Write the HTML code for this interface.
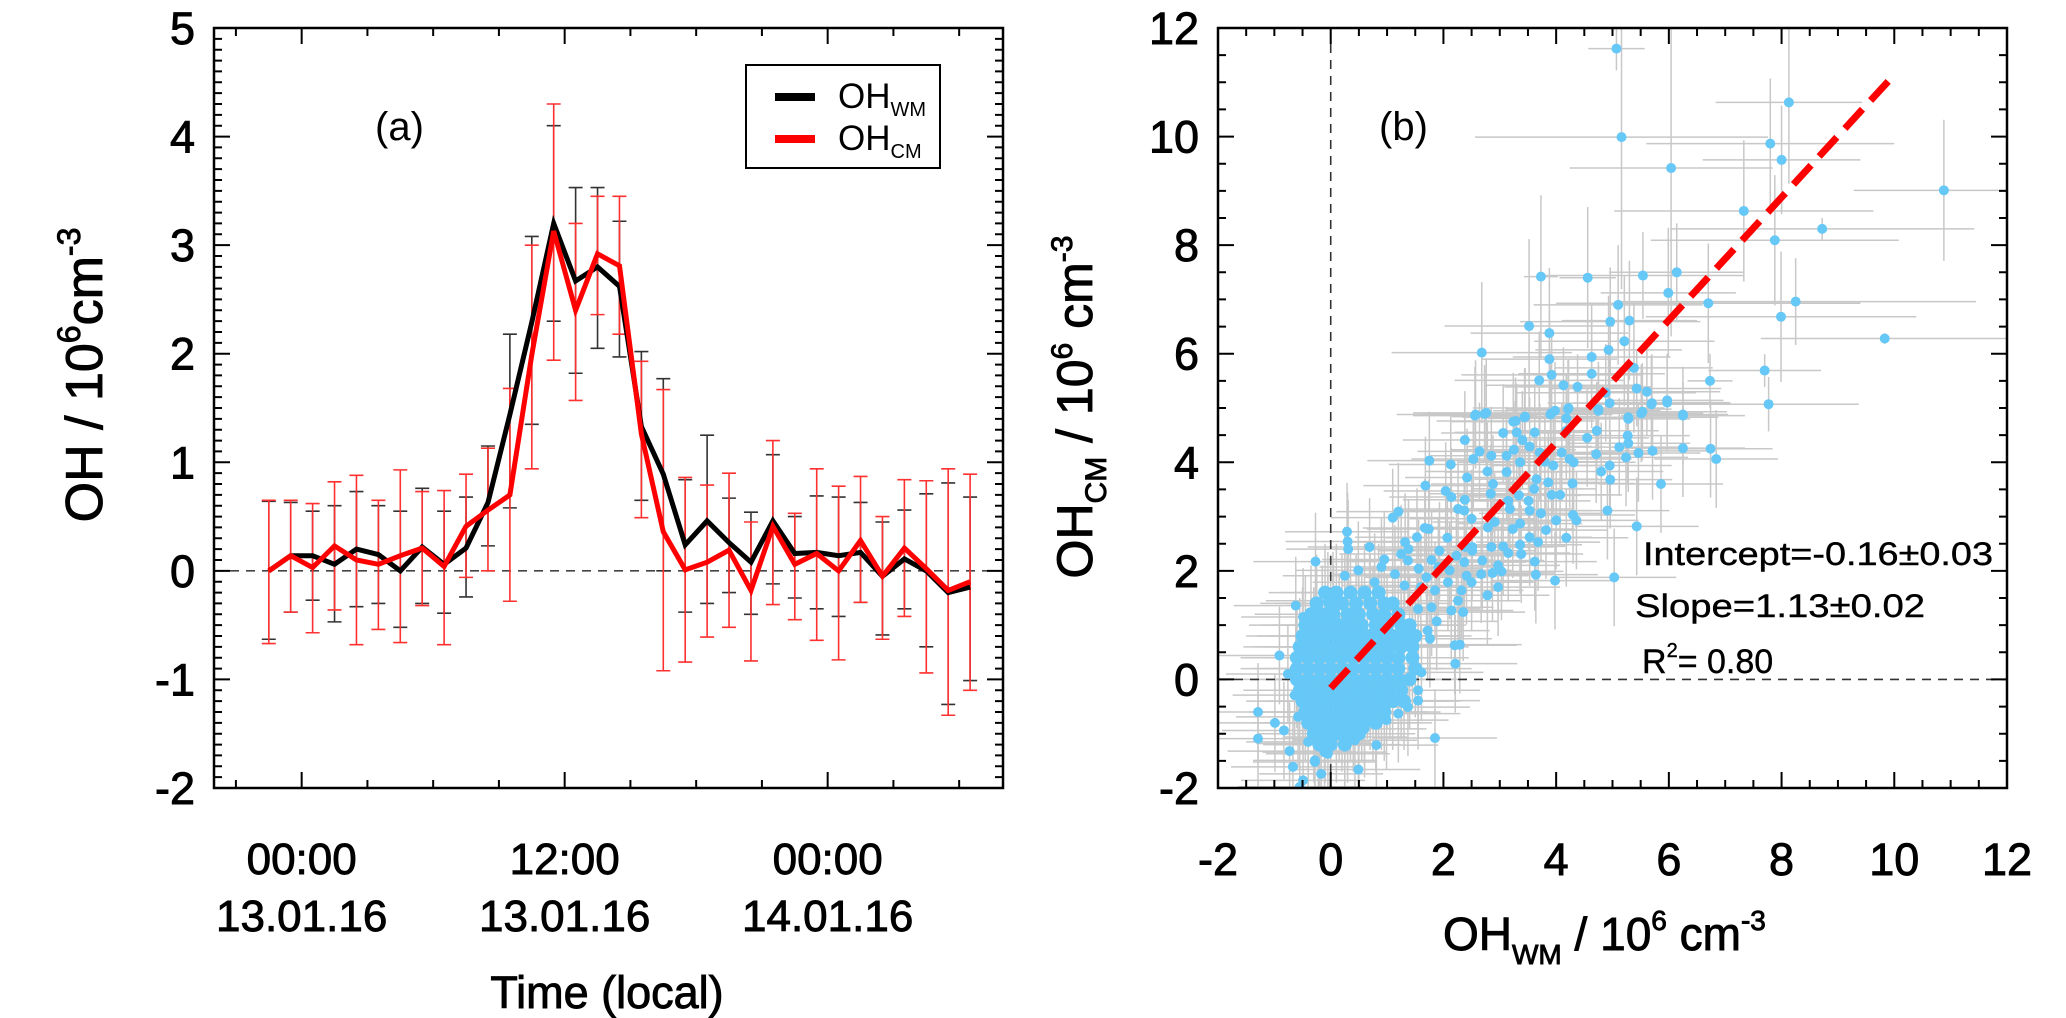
<!DOCTYPE html>
<html><head><meta charset="utf-8"><title>OH comparison</title>
<style>
html,body{margin:0;padding:0;background:#fff;}
svg{display:block;font-family:"Liberation Sans",Arial,sans-serif;}
.tl{stroke:#000;stroke-width:0.9;}
.ts{stroke:#000;stroke-width:0.4;}
</style></head>
<body>
<svg id="fig" xmlns="http://www.w3.org/2000/svg" width="2066" height="1018" viewBox="0 0 2066 1018">
<rect x="0" y="0" width="2066" height="1018" fill="#fff"/>
<g id="pa"></g>
<g id="pb"></g>
</svg>
<script>
// ---------- Panel (a) data ----------
const hours = [-1.5,-0.5,0.5,1.5,2.5,3.5,4.5,5.5,6.5,7.5,8.5,9.5,10.5,11.5,12.5,13.5,14.5,15.5,16.5,17.5,18.5,19.5,20.5,21.5,22.5,23.5,24.5,25.5,26.5,27.5,28.5,29.5,30.5];
const ohWM = [0,0.14,0.14,0.06,0.2,0.15,0,0.22,0.06,0.21,0.63,1.44,2.29,3.2,2.67,2.8,2.62,1.33,0.89,0.24,0.46,0.26,0.08,0.46,0.16,0.17,0.14,0.17,-0.05,0.11,0,-0.2,-0.15];
const ohCM = [0,0.14,0.03,0.23,0.1,0.06,0.14,0.21,0.04,0.41,0.56,0.7,1.99,3.13,2.4,2.92,2.81,1.26,0.36,0.01,0.08,0.19,-0.18,0.41,0.06,0.16,0,0.28,-0.05,0.21,0.02,-0.18,-0.1];
const wmHi = [0.64,0.63,0.55,0.6,0.73,0.6,0.55,0.76,0.55,0.68,1.15,2.18,3.08,4.1,3.53,3.53,3.22,2.02,1.77,0.84,1.25,0.67,0.54,1.07,0.5,0.69,0.68,0.63,0.45,0.56,0.71,0.81,0.68];
const wmLo = [-0.63,-0.38,-0.27,-0.47,-0.33,-0.3,-0.52,-0.3,-0.39,-0.24,0.23,0.58,1.35,2.3,1.82,2.05,1.97,0.65,0.0,-0.38,-0.3,-0.2,-0.4,-0.12,-0.25,-0.35,-0.42,-0.29,-0.59,-0.35,-0.7,-1.23,-1.01];
const cmHi = [0.65,0.65,0.62,0.82,0.88,0.65,0.93,0.73,0.74,0.89,1.13,1.68,3.0,4.3,3.2,3.45,3.45,1.93,1.67,0.86,0.79,0.9,0.45,1.2,0.53,0.94,0.78,0.87,0.5,0.84,0.83,0.94,0.89];
const cmLo = [-0.67,-0.38,-0.57,-0.36,-0.68,-0.54,-0.66,-0.32,-0.68,-0.06,0.0,-0.28,0.94,1.94,1.57,2.36,2.18,0.49,-0.92,-0.84,-0.61,-0.52,-0.83,-0.31,-0.45,-0.64,-0.82,-0.29,-0.63,-0.42,-0.94,-1.33,-1.1];
const aYTicks = [-2,-1,0,1,2,3,4,5];
const aXTickHours = [0,12,24];
const aXTickTime = ["00:00","12:00","00:00"];
const aXTickDate = ["13.01.16","13.01.16","14.01.16"];

// ---------- Panel (b) data ----------
const olX = [5.07,8.13,5.16,7.8,8.0,6.04,10.88,7.33,8.72,7.88,3.73,4.56,5.54,6.14,5.99,5.1,6.7,8.25,4.96,5.3,7.99,3.52,3.88,5.21,9.83,2.68,4.93,3.88,4.63,5.38,7.7,3.92,4.63,3.7,6.73,4.13,4.38,5.43,5.61,4.88,5.97,5.7,7.77,4.22,4.75,5.53,6.25,2.57,2.76,3.45,3.91,4.18,5.28,3.28];
const olY = [11.62,10.63,9.99,9.87,9.57,9.42,9.01,8.63,8.3,8.09,7.42,7.4,7.44,7.5,7.12,6.9,6.93,6.96,6.59,6.61,6.68,6.51,6.38,6.23,6.28,6.02,6.07,5.9,5.94,5.74,5.69,5.61,5.63,5.51,5.5,5.42,5.39,5.36,5.3,5.28,5.14,5.09,5.07,5.0,4.98,4.93,4.88,4.88,4.91,4.84,4.9,4.81,4.83,4.76];
const olXe = [0.5,1.3,2.6,2.2,1.4,1.8,1.6,2.3,2.7,2.2,0.3,0.5,1.8,1.2,1.2,1.5,2.7,3.2,1.6,1.2,2.4,1.5,1.4,1.6,2.2,1.6,1.3,1.2,1.4,1.4,1.0,1.6,1.3,1.5,0.4,1.4,1.3,1.5,1.3,1.6,1.0,1.4,1.6,1.7,1.3,1.5,0.8,1.4,1.3,1.3,1.5,1.4,1.6,1.4];
const olYe = [0.4,1.5,2.8,1.2,1.0,3.1,1.3,1.3,0.2,1.2,1.5,1.3,0.8,0.9,1.2,1.1,1.1,0.8,1.0,1.1,1.2,1.6,1.2,1.2,0.1,1.3,1.0,0.9,1.0,1.2,0.3,0.8,1.0,0.9,0.5,0.7,0.6,0.7,0.8,0.9,0.8,0.9,0.5,0.9,0.8,0.9,0.6,1.0,1.0,0.9,1.0,0.8,0.9,0.8];
const bandX = [4.95,5.69,5.97,4.21,4.75,3.98,3.9,3.44,3.24,2.73,2.56,6.25,5.51,5.28,4.18,4.72,3.06,3.3,3.62,5.27,4.55,2.38,3.4,5.28,3.53,5.12,6.25,6.74,6.84,5.46,5.71,4.71,2.64,3.25,3.71,2.85,3.12,4.1,4.24,5.24,1.75,2.13,2.53,3.36,3.8,3.95,4.31,4.8,4.95,2.78,2.42,3.12,3.65,4.29,4.96,5.86,3.86,2.88,1.68,3.61,2.04,2.84,3.34,3.92,2.14,2.38,3.15,3.51,4.07,
 4.91,1.2,2.26,2.37,3.18,3.53,3.73,4.3,4.36,4.0,1.1,2.5,2.91,3.82,5.43,4.18,0.29,1.67,1.74,2.79,3.23,3.36,3.68,3.53,0.3,0.31,0.69,1.32,1.53,2.07,2.38,2.51,2.85,3.06,3.36,1.25,1.38,1.93,2.23,2.51,3.15,3.38,0.95,1.37,1.79,2.37,2.69,2.97,3.62,-0.27,0.9,1.56,1.91,2.11,2.41,2.67,2.87,3.03,3.64,3.98,5.03,0.49,1.14,0.25,0.78,1.7,2.08,2.5,2.97,1.31,1.6,1.85,2.32,2.78,2.26,1.79,2.14,2.35,1.55,-0.05,0.04,
 -1.29,-1.29,-0.99,-0.83,-0.73,-0.67,-0.49,-0.55,-0.28,-0.11,0.49,0.81,1.85,-0.91,-0.76,-0.62,-0.49,1.55,1.55,1.61,1.76,1.72,2.21,2.2,2.29,1.88,-0.64,-0.58,0.99,1.2,1.37,0.25,0.43,0.6,-0.22,-0.05,-0.4,-0.17,-0.28];
const bandY = [5.09,5.07,5.1,4.98,4.95,4.95,4.88,4.83,4.75,4.89,4.86,4.86,4.9,4.8,4.58,4.58,4.54,4.55,4.55,4.49,4.45,4.41,4.41,4.35,4.29,4.28,4.26,4.25,4.06,4.17,4.21,4.15,4.2,4.23,4.18,4.12,4.12,4.18,4.06,4.09,4.03,3.96,4.06,4.0,4.01,3.94,4.0,3.83,3.94,3.83,3.72,3.82,3.69,3.61,3.68,3.6,3.63,3.6,3.57,3.51,3.47,3.42,3.39,3.4,3.36,3.31,3.29,3.29,3.4,
 3.11,3.09,3.14,3.11,3.14,3.11,3.06,3.03,2.93,2.93,2.98,2.96,2.9,2.75,2.82,2.61,2.72,2.79,2.77,2.8,2.77,2.87,2.53,2.62,2.54,2.4,2.44,2.53,2.62,2.61,2.44,2.44,2.44,2.45,2.48,2.31,2.4,2.37,2.28,2.37,2.33,2.31,2.21,2.19,2.2,2.16,2.19,2.1,2.17,2.17,2.07,2.04,2.07,2.01,1.91,1.94,1.96,1.99,1.93,1.82,1.88,2.01,1.94,1.91,1.79,1.88,1.79,1.79,1.7,1.73,1.7,1.64,1.64,1.55,1.45,1.33,1.27,1.24,1.3,1.45,1.45,
 -0.6,-1.09,-0.8,-0.94,-1.32,-1.61,-1.86,-1.98,-1.52,-1.34,-1.66,-1.21,-1.08,0.44,0.1,1.36,1.15,-0.39,-0.2,0.13,0.75,0.9,0.29,0.63,0.64,1.07,-0.29,-0.69,-0.75,-0.63,-0.51,-1.06,-1.12,-0.91,-1.18,-1.37,-1.15,-1.74,-1.49];
const bandErr = [1.1, 0.9];
const coreRowY = [1.6,1.4,1.2,1.0,0.8,0.6,0.4,0.2,0.0,-0.2,-0.4,-0.6,-0.8,-1.0,-1.2];
const coreRowX = [
 [-0.1,0.1,0.35,0.6,0.85],
 [-0.25,0.0,0.2,0.45,0.7,0.95,1.1],
 [-0.35,-0.15,0.05,0.3,0.5,0.75,0.95,1.2],
 [-0.45,-0.25,-0.05,0.15,0.35,0.55,0.8,1.0,1.25,1.4],
 [-0.5,-0.3,-0.1,0.1,0.3,0.5,0.7,0.9,1.1,1.3,1.5],
 [-0.55,-0.35,-0.15,0.05,0.25,0.45,0.65,0.85,1.05,1.25,1.45],
 [-0.6,-0.4,-0.2,0.0,0.2,0.4,0.6,0.8,1.0,1.2,1.45],
 [-0.6,-0.4,-0.2,0.0,0.2,0.4,0.6,0.8,1.0,1.2,1.5],
 [-0.6,-0.4,-0.2,0.0,0.2,0.4,0.6,0.8,1.0,1.2,1.4],
 [-0.55,-0.35,-0.15,0.05,0.25,0.45,0.65,0.85,1.05,1.25],
 [-0.5,-0.3,-0.1,0.1,0.3,0.5,0.7,0.9,1.1,1.3],
 [-0.45,-0.25,-0.05,0.15,0.35,0.55,0.75,0.95],
 [-0.4,-0.2,0.0,0.2,0.4,0.6,0.8],
 [-0.3,-0.1,0.1,0.3,0.5],
 [-0.2,0.0,0.25]];
const coreErr = [1.0, 0.9];
const fitIntercept = -0.16;
const fitSlope = 1.13;
const fitRange = [0, 10];
const bTicks = [-2,0,2,4,6,8,10,12];

// ---------- helpers ----------
const NS = "http://www.w3.org/2000/svg";
function mk(parent, tag, attrs, text) {
  const e = document.createElementNS(NS, tag);
  for (const k in attrs) e.setAttribute(k, attrs[k]);
  if (text !== undefined) e.textContent = text;
  parent.appendChild(e);
  return e;
}
const A = {x0:214, x1:1003, y0:28, y1:788, hmin:-4, hmax:32, vmin:-2, vmax:5};
const xA = h => A.x0 + (h - A.hmin) * (A.x1 - A.x0) / (A.hmax - A.hmin);
const yA = v => A.y1 - (v - A.vmin) * (A.y1 - A.y0) / (A.vmax - A.vmin);
const B = {x0:1218, x1:2007, y0:28, y1:788, min:-2, max:12};
const xB = v => B.x0 + (v - B.min) * (B.x1 - B.x0) / (B.max - B.min);
const yB = v => B.y1 - (v - B.min) * (B.y1 - B.y0) / (B.max - B.min);

const pa = document.getElementById('pa');
const pb = document.getElementById('pb');

// ================= PANEL A =================
let zl = mk(pa, 'line', {x1:A.x0, x2:A.x1, y1:yA(0), y2:yA(0), stroke:'#444', 'stroke-width':1.6, 'stroke-dasharray':'9,7'});



function errBars(lo, hi, color, name) {
  const g = mk(pa, 'g', {stroke:color, 'stroke-width':1.6, fill:'none'});
  
  
  for (let i = 0; i < hours.length; i++) {
    const x = xA(hours[i]);
    const b = mk(g, 'path', {d:`M${x},${yA(lo[i])}V${yA(hi[i])}M${x-7},${yA(lo[i])}h14M${x-7},${yA(hi[i])}h14`});
    
    
  }
}
errBars(wmLo, wmHi, '#333', 'wm-error-bars');
errBars(cmLo, cmHi, '#ff3030', 'cm-error-bars');

function series(vals, color, name) {
  const d = vals.map((v, i) => (i ? 'L' : 'M') + xA(hours[i]).toFixed(1) + ',' + yA(v).toFixed(1)).join('');
  const p = mk(pa, 'path', {d:d, stroke:color, 'stroke-width':5, fill:'none', 'stroke-linejoin':'miter'});
  
  
}
series(ohWM, '#000', 'oh-wm-line');
series(ohCM, '#ff0000', 'oh-cm-line');

let boxA = mk(pa, 'rect', {x:A.x0, y:A.y0, width:A.x1-A.x0, height:A.y1-A.y0, fill:'none', stroke:'#000', 'stroke-width':2.5});


let ytA = mk(pa, 'g', {stroke:'#000', 'stroke-width':2});


for (let k = -20; k <= 50; k++) {
  const v = k / 10, y = yA(v), L = (k % 10 === 0) ? 16 : 8;
  mk(ytA, 'path', {d:`M${A.x0},${y}h${L}M${A.x1},${y}h${-L}`});
}
let xtA = mk(pa, 'g', {stroke:'#000', 'stroke-width':2});


for (let h = -3; h <= 30; h += 3) {
  const x = xA(h), L = (h % 12 === 0) ? 16 : 8;
  mk(xtA, 'path', {d:`M${x},${A.y1}v${-L}M${x},${A.y0}v${L}`});
}
aYTicks.forEach(v => {
  const t = mk(pa, 'text', {x:195, y:yA(v)+16, 'font-size':45, 'text-anchor':'end', class:'tl'}, String(v));
  
  
});
aXTickHours.forEach((h, i) => {
  const t1 = mk(pa, 'text', {x:xA(h), y:874, 'font-size':44, 'text-anchor':'middle', class:'tl'}, aXTickTime[i]);
  
  
  const t2 = mk(pa, 'text', {x:xA(h), y:931, 'font-size':44, 'text-anchor':'middle', class:'tl'}, aXTickDate[i]);
  
  
});
let xtitA = mk(pa, 'text', {x:607, y:1008, 'font-size':45, 'text-anchor':'middle', class:'tl'}, 'Time (local)');


let ytitA = mk(pa, 'text', {transform:'translate(102,375) rotate(-90)', 'font-size':52, 'text-anchor':'middle', class:'tl'});


mk(ytitA, 'tspan', {}, 'OH / 10');
mk(ytitA, 'tspan', {'font-size':32, dy:-22}, '6');
mk(ytitA, 'tspan', {dy:22}, 'cm');
mk(ytitA, 'tspan', {'font-size':32, dy:-22}, '-3');
let labA = mk(pa, 'text', {x:375, y:140, 'font-size':40}, '(a)');



let leg = mk(pa, 'g', {});


mk(leg, 'rect', {x:746, y:65, width:194, height:103, fill:'#fff', stroke:'#000', 'stroke-width':2});
let le1 = mk(leg, 'g', {});


mk(le1, 'rect', {x:775, y:93, width:40, height:8, fill:'#000'});
let lt1 = mk(le1, 'text', {x:838, y:108, 'font-size':35});
mk(lt1, 'tspan', {}, 'OH');
mk(lt1, 'tspan', {'font-size':20, dy:8}, 'WM');
let le2 = mk(leg, 'g', {});


mk(le2, 'rect', {x:775, y:135, width:40, height:8, fill:'#ff0000'});
let lt2 = mk(le2, 'text', {x:838, y:150, 'font-size':35});
mk(lt2, 'tspan', {}, 'OH');
mk(lt2, 'tspan', {'font-size':20, dy:8}, 'CM');

// ================= PANEL B =================
let clip = mk(pb, 'clipPath', {id:'clipB'});
mk(clip, 'rect', {x:B.x0, y:B.y0, width:B.x1-B.x0, height:B.y1-B.y0});
let plotB = mk(pb, 'g', {'clip-path':'url(#clipB)'});



const pts = [];
olX.forEach((x, i) => pts.push([x, olY[i], olXe[i], olYe[i], 5]));
bandX.forEach((x, i) => pts.push([x, bandY[i], bandErr[0], bandErr[1], 5]));
coreRowY.forEach((y, r) => coreRowX[r].forEach(x => pts.push([x, y, coreErr[0], coreErr[1], 7])));

let errG = mk(plotB, 'g', {stroke:'#c8c8c8', 'stroke-width':1.5});


pts.forEach(p => {
  const e = mk(errG, 'path', {d:`M${xB(p[0]-p[2])},${yB(p[1])}H${xB(p[0]+p[2])}M${xB(p[0])},${yB(p[1]-p[3])}V${yB(p[1]+p[3])}`});
  
  
});
let zv = mk(plotB, 'line', {x1:xB(0), x2:xB(0), y1:B.y0, y2:B.y1, stroke:'#333', 'stroke-width':1.6, 'stroke-dasharray':'9,7'});


let zh = mk(plotB, 'line', {x1:B.x0, x2:B.x1, y1:yB(0), y2:yB(0), stroke:'#333', 'stroke-width':1.6, 'stroke-dasharray':'9,7'});



let dotG = mk(plotB, 'g', {fill:'#66c8f7'});


pts.forEach(p => {
  const c = mk(dotG, 'circle', {cx:xB(p[0]), cy:yB(p[1]), r:p[4]});
  
  
});
let fit = mk(plotB, 'line', {x1:xB(fitRange[0]), y1:yB(fitIntercept + fitSlope*fitRange[0]), x2:xB(fitRange[1]), y2:yB(fitIntercept + fitSlope*fitRange[1]), stroke:'#ff0000', 'stroke-width':7, 'stroke-dasharray':'26,12'});



let boxB = mk(pb, 'rect', {x:B.x0, y:B.y0, width:B.x1-B.x0, height:B.y1-B.y0, fill:'none', stroke:'#000', 'stroke-width':2.5});


let tkB = mk(pb, 'g', {stroke:'#000', 'stroke-width':2});


for (let k = -4; k <= 24; k++) {
  const v = k / 2, L = (k % 4 === 0) ? 16 : 8;
  const x = xB(v), y = yB(v);
  mk(tkB, 'path', {d:`M${x},${B.y1}v${-L}M${x},${B.y0}v${L}M${B.x0},${y}h${L}M${B.x1},${y}h${-L}`});
}
bTicks.forEach(v => {
  const ty = mk(pb, 'text', {x:1199, y:yB(v)+16, 'font-size':45, 'text-anchor':'end', class:'tl'}, String(v));
  
  
  const tx = mk(pb, 'text', {x:xB(v), y:875, 'font-size':45, 'text-anchor':'middle', class:'tl'}, String(v));
  
  
});
let xtitB = mk(pb, 'text', {x:1443, y:950, 'font-size':46, class:'tl'});


mk(xtitB, 'tspan', {}, 'OH');
mk(xtitB, 'tspan', {'font-size':28, dy:14}, 'WM');
mk(xtitB, 'tspan', {dy:-14}, ' / 10');
mk(xtitB, 'tspan', {'font-size':28, dy:-20}, '6');
mk(xtitB, 'tspan', {dy:20}, ' cm');
mk(xtitB, 'tspan', {'font-size':28, dy:-20}, '-3');
let ytitB = mk(pb, 'text', {transform:'translate(1092,407) rotate(-90)', 'font-size':50, 'text-anchor':'middle', class:'tl'});


mk(ytitB, 'tspan', {}, 'OH');
mk(ytitB, 'tspan', {'font-size':30, dy:14}, 'CM');
mk(ytitB, 'tspan', {dy:-14}, ' / 10');
mk(ytitB, 'tspan', {'font-size':30, dy:-20}, '6');
mk(ytitB, 'tspan', {dy:20}, ' cm');
mk(ytitB, 'tspan', {'font-size':30, dy:-20}, '-3');
let labB = mk(pb, 'text', {x:1379, y:140, 'font-size':40}, '(b)');



let s1 = mk(pb, 'text', {x:1643, y:565, 'font-size':32, textLength:350, lengthAdjust:'spacingAndGlyphs', class:'ts'}, 'Intercept=-0.16\u00b10.03');


let s2 = mk(pb, 'text', {x:1635, y:617, 'font-size':32, textLength:290, lengthAdjust:'spacingAndGlyphs', class:'ts'}, 'Slope=1.13\u00b10.02');


let s3 = mk(pb, 'text', {x:1642, y:673, 'font-size':34, class:'ts'});


mk(s3, 'tspan', {}, 'R');
mk(s3, 'tspan', {'font-size':20, dy:-16}, '2');
mk(s3, 'tspan', {dy:16}, '= 0.80');
</script>
</body></html>
